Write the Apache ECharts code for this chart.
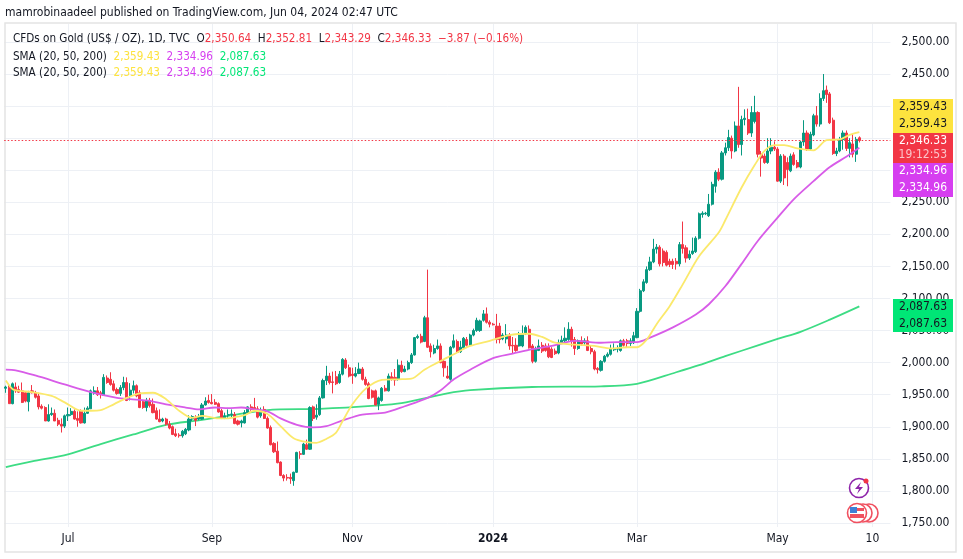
<!DOCTYPE html>
<html>
<head>
<meta charset="utf-8">
<title>CFDs on Gold</title>
<script src="https://cdn.jsdelivr.net/npm/echarts@6/dist/echarts.min.js"></script>
<style>
    html, body { margin: 0; padding: 0; background: #fff; }
    #e-main { width: 963px; height: 559px; }
</style>
</head>
<body>
<div id="e-main"></div>
<script>
var opens = [
    1960,1961,1936,1962,1958,1956,1953,1939,1956,1953,1948,1932,1930,1909,1919,1921,1910,1904,1901,1917,
    1919,1924,1913,1925,1906,1921,1928,1952,1956,1953,1949,1976,1974,1967,1958,1952,1961,1969,1948,1957,
    1964,1953,1939,1930,1941,1935,1925,1912,1909,1912,1904,1900,1889,1887,1886,1889,1895,1912,1915,1912,
    1912,1934,1941,1938,1938,1936,1925,1913,1918,1919,1919,1909,1906,1906,1922,1931,1930,1928,1917,1927,
    1913,1899,1874,1862,1845,1824,1821,1821,1816,1829,1858,1857,1872,1865,1931,1915,1919,1945,1972,1979,
    1970,1978,1969,1982,2004,1992,1982,1979,1983,1990,1974,1967,1956,1956,1935,1941,1960,1956,1978,1977,
    1974,1996,1986,1990,2000,2012,2039,2041,2033,2070,2026,2015,2022,2026,2002,1979,1974,2024,2033,2017,
    2023,2036,2027,2043,2050,2050,2066,2076,2063,2060,2057,2057,2037,2037,2043,2027,2027,2026,2026,2045,
    2052,2026,2002,2019,2027,2026,2024,2021,2018,2015,2031,2034,2036,2052,2036,2022,2034,2031,2034,2022,
    2017,1991,1988,2002,2010,2013,2020,2021,2019,2034,2034,2030,2031,2039,2080,2112,2125,2145,2157,2177,
    2180,2174,2172,2158,2158,2158,2154,2184,2179,2163,2170,2173,2194,2231,2232,2229,2247,2275,2297,2286,
    2327,2335,2350,2330,2369,2340,2379,2379,2358,2376,2390,2325,2322,2312,2330,2336,2333,2283,2322,2312,
    2299,2324,2312,2305,2344,2358,2333,2355,2385,2372,2412,2425,2419,2378,2326,2330,2348,2358,2334,2341,
    2325,2350.64
];
var closes = [
    1962,1936,1967,1956,1954,1938,1940,1953,1953,1946,1931,1929,1909,1919,1921,1909,1904,1901,1917,1919,
    1924,1912,1910,1906,1921,1929,1956,1956,1950,1951,1977,1969,1966,1957,1952,1961,1969,1941,1957,1964,
    1948,1930,1930,1941,1933,1922,1912,1908,1912,1904,1898,1888,1886,1886,1893,1896,1912,1916,1910,1916,
    1934,1940,1938,1936,1935,1923,1913,1917,1919,1920,1905,1904,1909,1922,1931,1927,1928,1915,1925,1913,
    1898,1872,1861,1844,1824,1820,1820,1819,1829,1860,1857,1873,1865,1930,1913,1918,1945,1972,1979,1969,
    1969,1967,1982,2005,1992,1979,1980,1983,1990,1974,1966,1944,1946,1934,1945,1960,1956,1979,1974,1973,
    1996,1986,1990,2000,2012,2039,2041,2032,2070,2024,2017,2022,2026,2000,1992,1976,2024,2034,2016,2024,
    2038,2027,2043,2050,2066,2065,2076,2063,2060,2059,2036,2036,2043,2043,2026,2026,2019,2045,2045,2055,
    2023,2002,2021,2026,2018,2019,2009,2008,2014,2031,2035,2038,2052,2034,2022,2034,2029,2034,2019,2017,
    1990,1989,2002,2010,2013,2022,2022,2022,2034,2027,2030,2034,2042,2080,2112,2126,2145,2157,2177,2180,
    2154,2156,2152,2153,2153,2154,2184,2178,2163,2169,2174,2194,2232,2233,2233,2247,2278,2297,2286,2327,
    2335,2351,2330,2369,2340,2379,2381,2358,2390,2390,2325,2319,2312,2330,2336,2333,2283,2322,2288,2301,
    2322,2309,2305,2344,2358,2333,2356,2385,2372,2412,2424,2418,2374,2326,2330,2348,2358,2334,2343,2325,
    2348,2346.33
];
var lows = [
    1953,1936,1935,1953,1953,1937,1938,1924,1952,1944,1927,1927,1909,1908,1917,1909,1901,1891,1898,1909,
    1917,1911,1900,1905,1905,1920,1928,1950,1948,1944,1948,1967,1964,1955,1950,1948,1957,1940,1941,1952,
    1946,1929,1928,1924,1930,1921,1911,1907,1907,1902,1896,1887,1884,1883,1883,1887,1893,1909,1901,1910,
    1911,1933,1936,1935,1934,1922,1912,1912,1914,1914,1904,1902,1899,1905,1920,1925,1926,1913,1914,1912,
    1897,1871,1859,1843,1823,1815,1816,1811,1808,1828,1850,1856,1864,1864,1909,1911,1917,1944,1965,1966,
    1952,1965,1967,1980,1990,1977,1967,1977,1982,1972,1964,1943,1944,1933,1926,1939,1955,1955,1972,1964,
    1972,1984,1985,1988,1998,2011,2037,2030,2032,2023,2008,2013,2020,1999,1978,1975,1972,2022,2015,2015,
    2021,2025,2025,2041,2048,2048,2064,2061,2055,2058,2030,2030,2035,2030,2020,2015,2017,2025,2024,2043,
    2022,1999,2000,2018,2015,2017,2007,2007,2012,2013,2029,2031,2034,2025,2012,2020,2026,2028,2018,2013,
    1988,1983,1986,2000,2008,2011,2018,2016,2017,2025,2023,2026,2029,2038,2078,2110,2123,2143,2155,2170,
    2150,2150,2150,2149,2146,2145,2150,2170,2156,2160,2168,2171,2192,2226,2230,2227,2245,2265,2283,2284,
    2323,2330,2318,2328,2335,2323,2370,2355,2352,2373,2320,2290,2310,2310,2325,2330,2282,2280,2277,2275,
    2297,2307,2303,2303,2338,2330,2331,2353,2368,2368,2408,2405,2372,2324,2322,2328,2332,2330,2320,2320,
    2313,2343.29
];
var highs = [
    1964,1966,1969,1969,1964,1969,1955,1956,1965,1956,1953,1935,1932,1935,1930,1927,1914,1913,1919,1930,
    1929,1927,1924,1927,1930,1932,1958,1963,1962,1956,1982,1980,1985,1972,1961,1965,1978,1977,1968,1972,
    1966,1957,1942,1945,1945,1944,1930,1927,1914,1914,1909,1902,1897,1890,1895,1898,1918,1918,1918,1920,
    1937,1946,1950,1951,1943,1938,1928,1922,1927,1927,1923,1911,1911,1926,1932,1935,1945,1932,1930,1932,
    1916,1902,1876,1877,1846,1826,1826,1827,1830,1861,1862,1875,1880,1932,1933,1935,1948,1975,1995,1984,
    1986,1987,1987,2007,2007,1997,1992,1993,2000,1993,1978,1970,1958,1958,1947,1962,1965,1983,1985,1990,
    2005,2003,1995,2003,2015,2040,2044,2045,2073,2145,2030,2028,2036,2030,2005,1995,2026,2044,2036,2034,
    2040,2040,2045,2053,2070,2067,2082,2086,2066,2062,2076,2062,2046,2060,2046,2040,2038,2048,2058,2058,
    2058,2029,2025,2036,2032,2030,2030,2024,2022,2036,2042,2055,2063,2056,2040,2036,2041,2038,2041,2026,
    2020,1993,2004,2012,2016,2028,2030,2027,2036,2037,2037,2038,2048,2085,2115,2130,2150,2165,2193,2185,
    2183,2178,2175,2162,2162,2163,2188,2220,2183,2175,2195,2197,2234,2236,2235,2263,2282,2300,2303,2330,
    2343,2363,2354,2376,2430,2385,2395,2396,2400,2416,2392,2330,2326,2350,2350,2345,2336,2325,2325,2320,
    2326,2328,2316,2346,2378,2362,2360,2388,2400,2420,2450,2432,2422,2382,2335,2352,2362,2362,2350,2358,
    2352,2352.81
];

// 指标线: [柱序号, 读到的价格]
var sma20 = [
    [0,1972],[2,1959],[4,1956],[8,1954],[14,1948],[18,1938],[23,1925],[26,1925],[29,1926],[33,1935],
    [37,1945],[41,1952],[45,1953],[49,1943],[53,1925],[57,1914],[60,1917],[65,1913],[68,1913],[70,1915],
    [73,1918],[76,1925],[80,1920],[84,1901],[88,1882],[92,1876],[95,1875],[98,1881],[101,1891],[103,1909],
    [106,1935],[110,1959],[115,1973],[120,1974],[124,1975],[128,1989],[132,2000],[137,2013],[142,2026],[148,2034],
    [154,2043],[160,2045],[164,2040],[168,2031],[174,2028],[180,2026],[185,2022],[190,2024],[193,2024],[196,2036],
    [199,2060],[203,2088],[207,2122],[212,2166],[218,2203],[220,2222],[225,2273],[229,2308],[232,2330],
    [235,2339],[238,2339],[242,2334],[247,2331],[251,2347],[255,2348],[258,2355],[261,2359.43]
];
var sma50 = [
    [0,1989],[3,1988],[9,1980],[18,1966],[26,1954],[34,1945],[38,1943],[43,1941],[49,1935],[55,1930],
    [59,1927],[64,1930],[68,1929],[72,1930],[76,1927],[80,1924],[84,1913],[89,1903],[94,1899],[98,1901],
    [103,1910],[109,1919],[116,1922],[122,1932],[129,1945],[133,1957],[137,1974],[142,1989],[149,2007],[155,2014],
    [161,2021],[167,2026],[174,2034],[182,2031],[187,2032],[193,2032],[197,2039],[204,2055],[211,2075],[215,2091],
    [220,2119],[225,2154],[230,2190],[236,2226],[241,2255],[247,2283],[252,2305],[257,2321],[261,2334.96]
];
var sma200 = [
    [0,1837],[8,1846],[19,1857],[29,1873],[39,1888],[49,1903],[59,1910],[68,1917],[80,1926],[96,1928],
    [113,1933],[121,1937],[135,1952],[142,1957],[161,1962],[182,1963],[193,1967],[205,1985],[212,1996],[220,2010],
    [230,2027],[236,2037],[243,2048],[252,2067],[261,2087.63]
];

// 横轴: 第一根是 2023-06-06, 后面留空到 6 月中
var blankBars = 9;
var xTicks = { 19: 'Jul', 63: 'Sep', 106: 'Nov', 149: '2024', 193: 'Mar', 236: 'May', 265: '10' };
var yTicks = [1750,1800,1850,1900,1950,2000,2050,2100,2150,2200,2250,2300,2350,2400,2450,2500];

var categories = [];
for (var i = 0; i < opens.length + blankBars; i++) {
    categories.push(i);
}
var candles = [];
for (var j = 0; j < opens.length; j++) {
    candles.push([opens[j], closes[j], lows[j], highs[j]]);
}

var UP = '#089981', DOWN = '#f23645';
var FONT = '"DejaVu Sans Condensed", "DejaVu Sans", sans-serif';
var TEXT = '#131722';

function isTick(index) {
    return xTicks[index] !== undefined;
}

// 右边价格标签
function priceTag(top, height, color, rows) {
    var items = [{
        type: 'rect',
        shape: { x: 893, y: top, width: 60, height: height },
        style: { fill: color },
        z: 20
    }];
    rows.forEach(function (r) {
        items.push({
            type: 'text',
            x: 947, y: r.y,
            style: { text: r.text, fill: r.color, font: '12px ' + FONT, textAlign: 'right', textVerticalAlign: 'middle' },
            z: 21
        });
    });
    return items;
}

var graphics = [{
    type: 'rect',
    shape: { x: 5, y: 23, width: 951, height: 529 },
    style: { fill: 'none', stroke: '#e4e4e4', lineWidth: 1.5 },
    z: 1
}];
graphics = graphics
    .concat(priceTag(99, 34, '#fde33e', [{ text: '2,359.43', y: 107, color: TEXT }, { text: '2,359.43', y: 124, color: TEXT }]))
    .concat(priceTag(133, 30, '#f23645', [{ text: '2,346.33', y: 141, color: '#fff' }, { text: '19:12:53', y: 155, color: '#fbc4c9' }]))
    .concat(priceTag(163, 34, '#d63ef0', [{ text: '2,334.96', y: 171, color: '#fff' }, { text: '2,334.96', y: 188, color: '#fff' }]))
    .concat(priceTag(299, 33, '#00e676', [{ text: '2,087.63', y: 307, color: TEXT }, { text: '2,087.63', y: 324, color: TEXT }]));

// 右下角两个小图标
graphics.push(
    { type: 'circle', shape: { cx: 859, cy: 488, r: 9.5 }, style: { fill: '#fff', stroke: '#8e24aa', lineWidth: 1.6 }, z: 20 },
    { type: 'polygon', shape: { points: [[861, 482], [855, 489], [859, 489], [857, 494], [863, 487], [859, 487]] }, style: { fill: '#8e24aa' }, z: 21 },
    { type: 'circle', shape: { cx: 866, cy: 481, r: 2.5 }, style: { fill: '#f23645' }, z: 22 },
    { type: 'circle', shape: { cx: 869, cy: 513, r: 9 }, style: { fill: '#fff', stroke: '#f0505f', lineWidth: 1.6 }, z: 20 },
    { type: 'circle', shape: { cx: 863, cy: 513, r: 9 }, style: { fill: '#fff', stroke: '#f0505f', lineWidth: 1.6 }, z: 20 },
    { type: 'circle', shape: { cx: 857, cy: 513, r: 9.5 }, style: { fill: '#fff', stroke: '#f0505f', lineWidth: 1.6 }, z: 20 },
    { type: 'rect', shape: { x: 850, y: 508, width: 14, height: 3 }, style: { fill: '#f0505f' }, z: 21 },
    { type: 'rect', shape: { x: 850, y: 514, width: 14, height: 4 }, style: { fill: '#f0505f' }, z: 21 },
    { type: 'rect', shape: { x: 850, y: 507, width: 7, height: 6 }, style: { fill: '#3f7fd6' }, z: 22 }
);

function legendStyle(color) {
    return { fontFamily: FONT, fontSize: 11.6, fontWeight: 'normal', color: color };
}
var smaRich = {
    k: legendStyle(TEXT),
    y: legendStyle('#fde33e'),
    m: legendStyle('#d63ef0'),
    g: legendStyle('#00e676')
};
var smaLegend = '{k|SMA (20, 50, 200)  }{y|2,359.43}{k|  }{m|2,334.96}{k|  }{g|2,087.63}';

var myChart = echarts.init(document.getElementById('e-main'));

var option = {
    animation: false,
    backgroundColor: '#fff',
    textStyle: { fontFamily: FONT },
    title: [
        {
            text: 'mamrobinaadeel published on TradingView.com, Jun 04, 2024 02:47 UTC',
            left: 5, top: 7, padding: 0,
            textStyle: { fontFamily: FONT, fontSize: 12, fontWeight: 'normal', color: TEXT }
        },
        {
            text: '{k|CFDs on Gold (US$ / OZ), 1D, TVC  O}{r|2,350.64}{k|  H}{r|2,352.81}{k|  L}{r|2,343.29}{k|  C}{r|2,346.33  −3.87 (−0.16%)}',
            left: 13, top: 33, padding: 0,
            textStyle: {
                fontWeight: 'normal',
                rich: { k: legendStyle(TEXT), r: legendStyle(DOWN) }
            }
        },
        {
            text: smaLegend,
            left: 13, top: 51, padding: 0,
            textStyle: { fontWeight: 'normal', rich: smaRich }
        },
        {
            text: smaLegend,
            left: 13, top: 67, padding: 0,
            textStyle: { fontWeight: 'normal', rich: smaRich }
        }
    ],
    grid: { left: 4.2, top: 24, width: 886.2, height: 503 },
    xAxis: {
        type: 'category',
        data: categories,
        axisLine: { show: false },
        axisTick: { show: false },
        splitLine: {
            show: true,
            alignWithLabel: true,
            interval: isTick,
            lineStyle: { color: '#edf0f5', width: 1 }
        },
        axisLabel: {
            interval: isTick,
            margin: 6,
            fontFamily: FONT,
            fontSize: 12,
            color: TEXT,
            formatter: function (value, index) {
                var label = xTicks[index] || '';
                return label === '2024' ? '{b|2024}' : label;
            },
            rich: { b: { fontFamily: FONT, fontSize: 12, fontWeight: 'bold', color: TEXT } }
        }
    },
    yAxis: {
        type: 'value',
        position: 'right',
        min: 1743.7,
        max: 2528,
        axisLine: { show: false },
        axisTick: { show: false, customValues: yTicks },
        splitLine: { show: true, lineStyle: { color: '#edf0f5', width: 1 } },
        axisLabel: {
            customValues: yTicks,
            margin: 11,
            fontFamily: FONT,
            fontSize: 12,
            color: TEXT,
            formatter: function (v) {
                return v.toLocaleString('en-US', { minimumFractionDigits: 2, maximumFractionDigits: 2 });
            }
        }
    },
    series: [
        {
            name: 'SMA 200',
            type: 'line',
            data: sma200,
            showSymbol: false,
            smooth: 0.3,
            z: 3,
            lineStyle: { color: '#3ddc84', width: 1.8 }
        },
        {
            name: 'CFDs on Gold',
            type: 'candlestick',
            data: candles,
            barWidth: 2.6,
            z: 4,
            itemStyle: {
                color: UP,
                color0: DOWN,
                borderColor: UP,
                borderColor0: DOWN,
                borderWidth: 1
            },
            markLine: {
                silent: true,
                symbol: 'none',
                label: { show: false },
                data: [{
                    yAxis: closes[closes.length - 1],
                    lineStyle: { color: DOWN, type: [1.5, 2], width: 1 }
                }]
            }
        },
        {
            name: 'SMA 50',
            type: 'line',
            data: sma50,
            showSymbol: false,
            smooth: 0.3,
            z: 5,
            lineStyle: { color: '#d85ce8', width: 1.8 }
        },
        {
            name: 'SMA 20',
            type: 'line',
            data: sma20,
            showSymbol: false,
            smooth: 0.3,
            z: 5,
            lineStyle: { color: '#fbe96b', width: 1.8 }
        }
    ],
    graphic: graphics
};

myChart.setOption(option);
</script>
</body>
</html>
